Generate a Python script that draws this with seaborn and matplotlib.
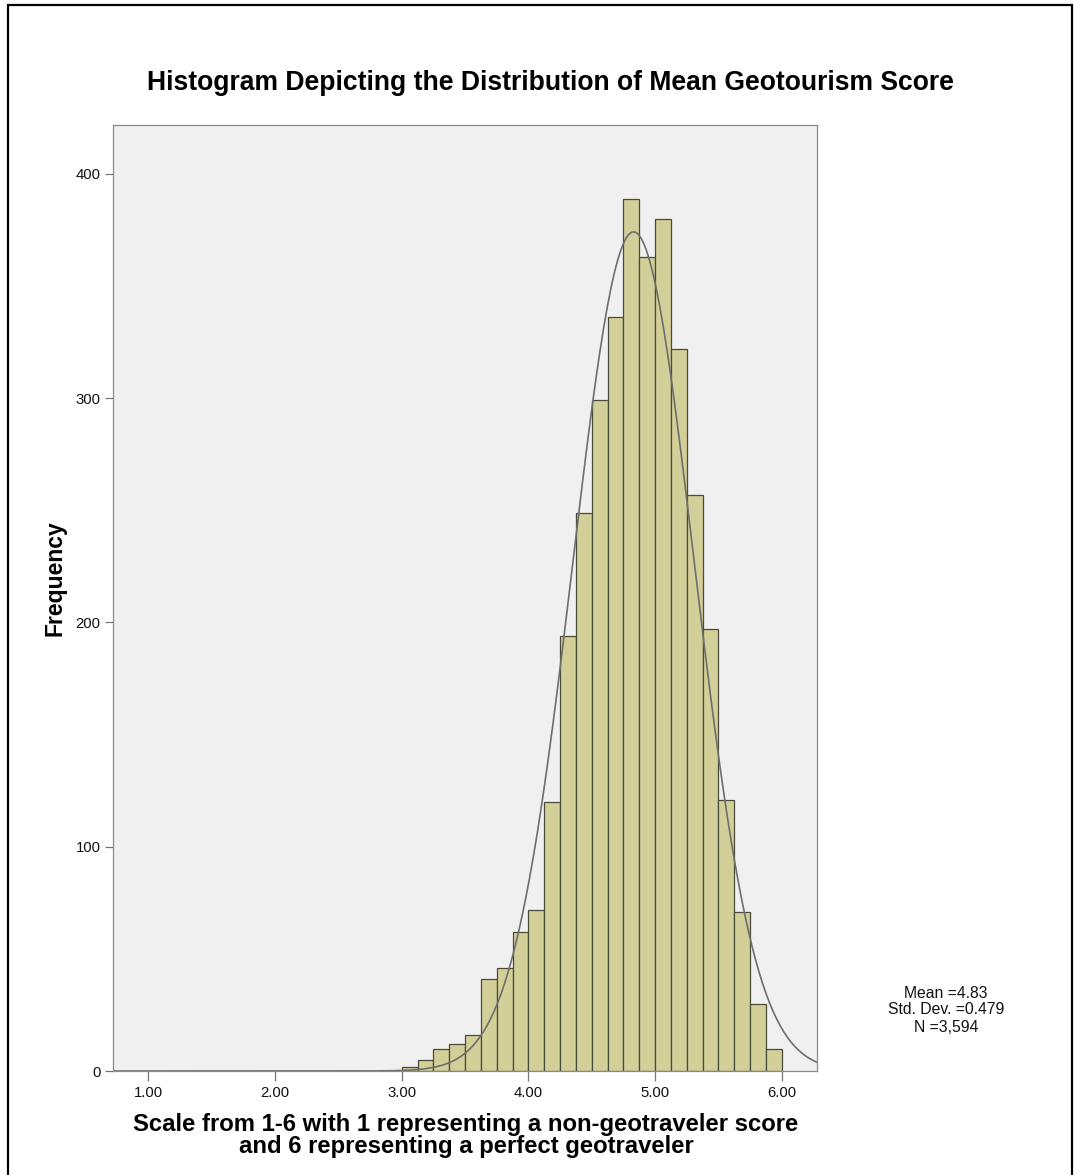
import seaborn as sns
import matplotlib.pyplot as plt
import numpy as np
import pandas as pd
from matplotlib.patches import Rectangle

# データ（ヒストグラムの階級と度数）
bin_edges = [3.0, 3.125, 3.25, 3.375, 3.5, 3.625, 3.75, 3.875, 4.0, 4.125, 4.25, 4.375,
             4.5, 4.625, 4.75, 4.875, 5.0, 5.125, 5.25, 5.375, 5.5, 5.625, 5.75, 5.875, 6.0]
counts = [2, 5, 10, 12, 16, 41, 46, 62, 72, 120, 194, 249,
          299, 336, 389, 363, 380, 322, 257, 197, 121, 71, 30, 10]
mean_score = 4.83
std_dev = 0.479
n_total = 3594
x_ticks = [1.0, 2.0, 3.0, 4.0, 5.0, 6.0]
y_ticks = [0, 100, 200, 300, 400]

sns.set_style("white")
plt.rcParams['font.family'] = ['Liberation Sans', 'DejaVu Sans']

centers = [(a + b) / 2 for a, b in zip(bin_edges[:-1], bin_edges[1:])]
df = pd.DataFrame({'score': centers, 'freq': counts})

fig = plt.figure(figsize=(10.74, 11.75), dpi=100)
ax = fig.add_axes([0.1052, 0.0885, 0.6555, 0.8051])
ax.set_facecolor('#f0f0f0')

sns.histplot(data=df, x='score', weights='freq', bins=bin_edges, ax=ax,
             color='#d3cf98', edgecolor='#4b4b3c', linewidth=0.9, alpha=1.0)

# 正規分布曲線（平均・標準偏差・Nから）
xs = np.linspace(0.72, 6.28, 400)
width = bin_edges[1] - bin_edges[0]
pdf = n_total * width / (std_dev * np.sqrt(2 * np.pi)) * np.exp(-0.5 * ((xs - mean_score) / std_dev) ** 2)
sns.lineplot(x=xs, y=pdf, ax=ax, color='#6e6e6e', linewidth=1.2)

ax.set_xlim(0.72, 6.278)
ax.set_ylim(0, 421.8)
ax.set_xticks(x_ticks)
ax.set_xticklabels([f"{t:.2f}" for t in x_ticks])
ax.set_yticks(y_ticks)
ax.tick_params(axis='both', labelsize=10.7, colors='#777777', labelcolor='#111111',
               bottom=True, left=True)
ax.tick_params(axis='x', length=7, width=0.9, pad=4)
ax.tick_params(axis='y', length=6, width=0.9, pad=3)
for s in ax.spines.values():
    s.set_color('#8a8a8a')
    s.set_linewidth(0.9)
ax.set_xlabel("")
ax.set_ylabel("")

# タイトルとラベル
fig.text(550 / 1074, 1 - 83 / 1175, "Histogram Depicting the Distribution of Mean Geotourism Score",
         ha='center', va='center', fontsize=19.1, fontweight='bold', color='black')
fig.text(55 / 1074, 1 - 578 / 1175, "Frequency", rotation=90, ha='center', va='center',
         fontsize=16.5, fontweight='bold', color='black')
fig.text(466 / 1074, 1 - 1124 / 1175, "Scale from 1-6 with 1 representing a non-geotraveler score",
         ha='center', va='center', fontsize=17.2, fontweight='bold', color='black')
fig.text(466 / 1074, 1 - 1147 / 1175, "and 6 representing a perfect geotraveler",
         ha='center', va='center', fontsize=17.2, fontweight='bold', color='black')

# 統計量
stats_lines = [f"Mean ={mean_score:.2f}", f"Std. Dev. ={std_dev:.3f}", f"N ={n_total:,}"]
for i, line in enumerate(stats_lines):
    fig.text(946 / 1074, 1 - (993 + 17 * i) / 1175, line, ha='center', va='center',
             fontsize=11.3, color='#111111')

# 外枠
fig.patches.append(Rectangle((8 / 1074, -0.05), 1064 / 1074, 1.05 - 5 / 1175,
                             transform=fig.transFigure, fill=False, edgecolor='black',
                             linewidth=1.6))

plt.savefig('out.png', dpi=100)
